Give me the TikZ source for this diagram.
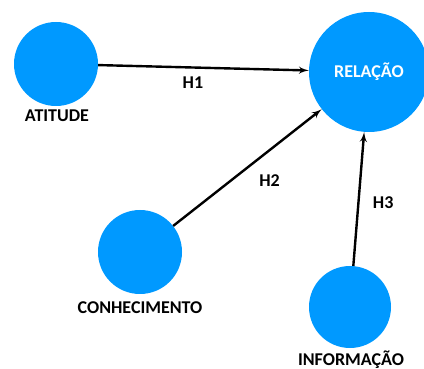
\documentclass[tikz,border=0pt]{standalone}
\usepackage{fontspec}
\setmainfont{Carlito}
\usepackage{tikz}
\usetikzlibrary{arrows,positioning}
\definecolor{bolha}{RGB}{0,153,255}

\begin{document}
\begin{tikzpicture}[
  x=1pt, y=-1pt,
  circ/.style={circle, fill=bolha, inner sep=0pt, minimum size=84pt},
  rotulo/.style={font=\bfseries\fontsize{18}{20}\selectfont},
  arr/.style={-latex', line width=2.4pt},
  font=\bfseries\fontsize{18}{20}\selectfont
]
\useasboundingbox (0,0) rectangle (424,369);

% ======= Construtos =======
\node[circ] (atitude) at (56,64) {};
\node[rotulo] (latitude) at (57,116) {ATITUDE};

\node[circ, minimum size=120pt, text=white] (relacao) at (369,72) {RELAÇÃO};

\node[circ] (conhecimento) at (140,252) {};
\node[rotulo] (lconhecimento) at (140,308) {CONHECIMENTO};

\node[circ, minimum size=82pt] (informacao) at (350,307) {};
\node[rotulo] (linformacao) at (351,360) {INFORMAÇÃO};

% ======= Hipoteses =======
\draw[arr] (atitude) -- node[pos=0.45, below=5pt] (h1) {H1} (relacao);
\draw[arr] (conhecimento) -- node[pos=0.55, below right=8pt and 0pt] (h2) {H2} (relacao);
\draw[arr] (informacao) -- node[pos=0.47, right=10pt] (h3) {H3} (relacao);

\end{tikzpicture}
\end{document}
